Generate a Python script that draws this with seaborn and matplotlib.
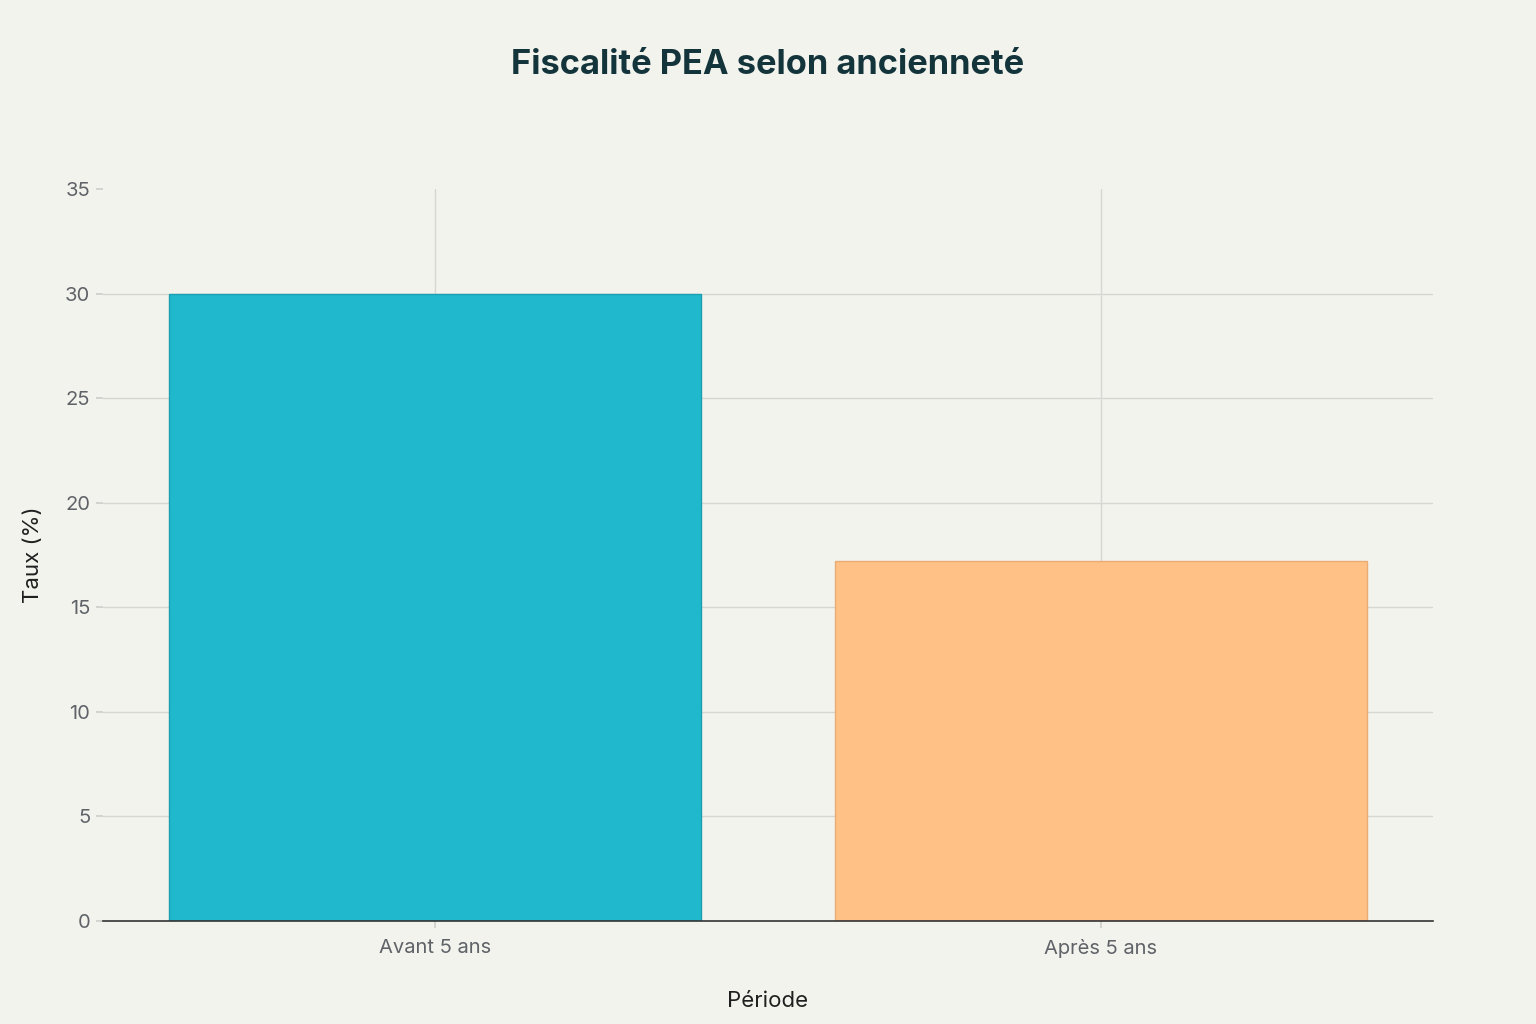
import pandas as pd
import matplotlib
matplotlib.use("Agg")
import matplotlib.pyplot as plt
import seaborn as sns

# data
periodes = ["Avant 5 ans", "Après 5 ans"]
taux = [30, 17.2]
couleurs = ["#1FB8CD", "#FFC185"]
bordures = ["#1A9FB2", "#E8AC74"]
y_ticks = [0, 5, 10, 15, 20, 25, 30, 35]

df = pd.DataFrame({"Période": periodes, "Taux": taux})

bg = "#F3F3EE"
sns.set_theme(style="white")
plt.rcParams["font.family"] = ["Inter", "DejaVu Sans"]

fig = plt.figure(figsize=(15.36, 10.24), dpi=100, facecolor=bg)
ax = fig.add_axes([0.067, 0.1006, 0.866, 0.7148])
ax.set_facecolor(bg)

sns.barplot(data=df, x="Période", y="Taux", hue="Période", palette=couleurs,
            saturation=1, width=0.8, legend=False, ax=ax, zorder=3)
for patch, ec in zip(ax.patches, bordures):
    patch.set_edgecolor(ec)
    patch.set_linewidth(1)

ax.set_xlim(-0.5, 1.5)
ax.set_ylim(0, 35)
ax.set_yticks(y_ticks)
ax.grid(True, color="#D6D6D2", linewidth=1, zorder=0)
ax.set_axisbelow(True)
# the reference has no grid line at the top value
ax.get_ygridlines()[-1].set_visible(False)

for side in ["top", "right", "left"]:
    ax.spines[side].set_visible(False)
ax.spines["bottom"].set_color("#333333")
ax.spines["bottom"].set_linewidth(1.2)
ax.spines["bottom"].set_zorder(4)

ax.tick_params(axis="y", length=5, color="#CFCFCB", labelsize=14.5, labelcolor="#5F6368", pad=4)
ax.tick_params(axis="x", length=5, color="#CFCFCB", labelsize=14.5, labelcolor="#5F6368", pad=8)
ax.tick_params(axis="y", left=True)
ax.tick_params(axis="x", bottom=True)

ax.set_xlabel("Période", fontsize=16, color="#1F1F1F", labelpad=24)
ax.set_ylabel("Taux (%)", fontsize=16, color="#1F1F1F", labelpad=16)

fig.suptitle("Fiscalité PEA selon ancienneté", fontsize=24.8, fontweight="bold",
             color="#13343B", x=0.5, y=0.952)

fig.savefig("out.png", dpi=100, facecolor=bg)
